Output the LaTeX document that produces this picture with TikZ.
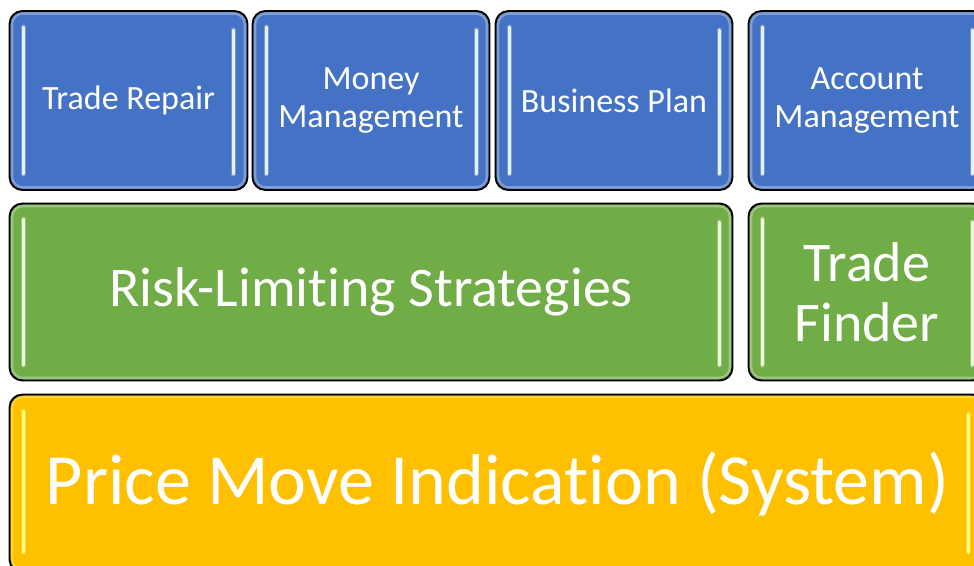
\documentclass[tikz,border=0pt]{standalone}
\usepackage{fontspec}
\setmainfont{Carlito}[Ligatures={NoCommon,NoContextual,NoRare}]
\definecolor{bluebox}{HTML}{4472C4}
\definecolor{greenbox}{HTML}{70AD47}
\definecolor{orangebox}{HTML}{FFC000}
\definecolor{bluehl}{HTML}{E8F1FF}
\definecolor{greenhl}{HTML}{EEFADF}
\definecolor{orangehl}{HTML}{FFFF80}
\tikzset{
  blk/.style={rounded corners=13pt, draw=black, line width=1.4pt, text=white,
    align=center, inner sep=0pt, font=\fontsize{34}{38}\selectfont},
  bluebk/.style={blk, fill=bluebox},
  greenbk/.style={blk, fill=greenbox, font=\fontsize{56}{60}\selectfont},
  orangebk/.style={blk, fill=orangebox, font=\fontsize{72}{80}\selectfont},
  glow/.style={line width=5pt, draw opacity=0.3, line cap=round},
  hl/.style={line width=3pt, line cap=round},
  rim/.style={rounded corners=11pt, line width=3pt, draw opacity=0.35}
}
\begin{document}
\begin{tikzpicture}[x=1pt,y=-1pt]
\useasboundingbox (0,0) rectangle (974,565);
% top row
\node[bluebk, minimum width=237pt, minimum height=178pt] (tr) at (128.5,100.5) {Trade Repair};
\node[bluebk, minimum width=236pt, minimum height=178pt] (mm) at (371,100.5) {Money\\Management};
\node[bluebk, minimum width=236pt, minimum height=178pt] (bp) at (614,100.5) {Business Plan};
\node[bluebk, minimum width=236pt, minimum height=178pt] (am) at (867,100.5) {Account\\Management};
% middle row
\node[greenbk, minimum width=722pt, minimum height=176pt] (rls) at (371,292) {Risk-Limit\kern0pt ing Strategies};
\node[greenbk, minimum width=236pt, minimum height=176pt] (tf) at (867,292) {Trade\\Finder};
% bottom row
\node[orangebk, minimum width=975pt, minimum height=177pt] (pmi) at (497.5,483.5) {Price Move Indicat\kern0pt ion (System)};
% rims (subtle bevel)
\foreach \n/\c in {tr/bluehl,mm/bluehl,bp/bluehl,am/bluehl,rls/greenhl,tf/greenhl,pmi/orangehl}{
  \draw[rim, draw=\c] ([shift={(2.5pt,-2.5pt)}]\n.north west) rectangle ([shift={(-2.5pt,2.5pt)}]\n.south east);
  \draw[rounded corners=13pt, line width=1.4pt] (\n.north west) rectangle (\n.south east);
}
% highlight lines
\foreach \xl/\xr/\ya/\yb/\c in {23/233/27/174/bluehl, 266/476/27/174/bluehl, 509/719/27/174/bluehl, 762/972/27/174/bluehl,
  23/719/219/365/greenhl, 762/972/219/365/greenhl, 23/968/411/552/orangehl}{
  \draw[glow, draw=\c] (\xl,\ya) -- (\xl,\yb);
  \draw[hl, draw=\c] (\xl,\ya) -- (\xl,\yb);
  \draw[glow, draw=\c] (\xr,\ya+3) -- (\xr,\yb);
  \draw[hl, draw=\c] (\xr,\ya+3) -- (\xr,\yb);
}
\end{tikzpicture}
\end{document}
